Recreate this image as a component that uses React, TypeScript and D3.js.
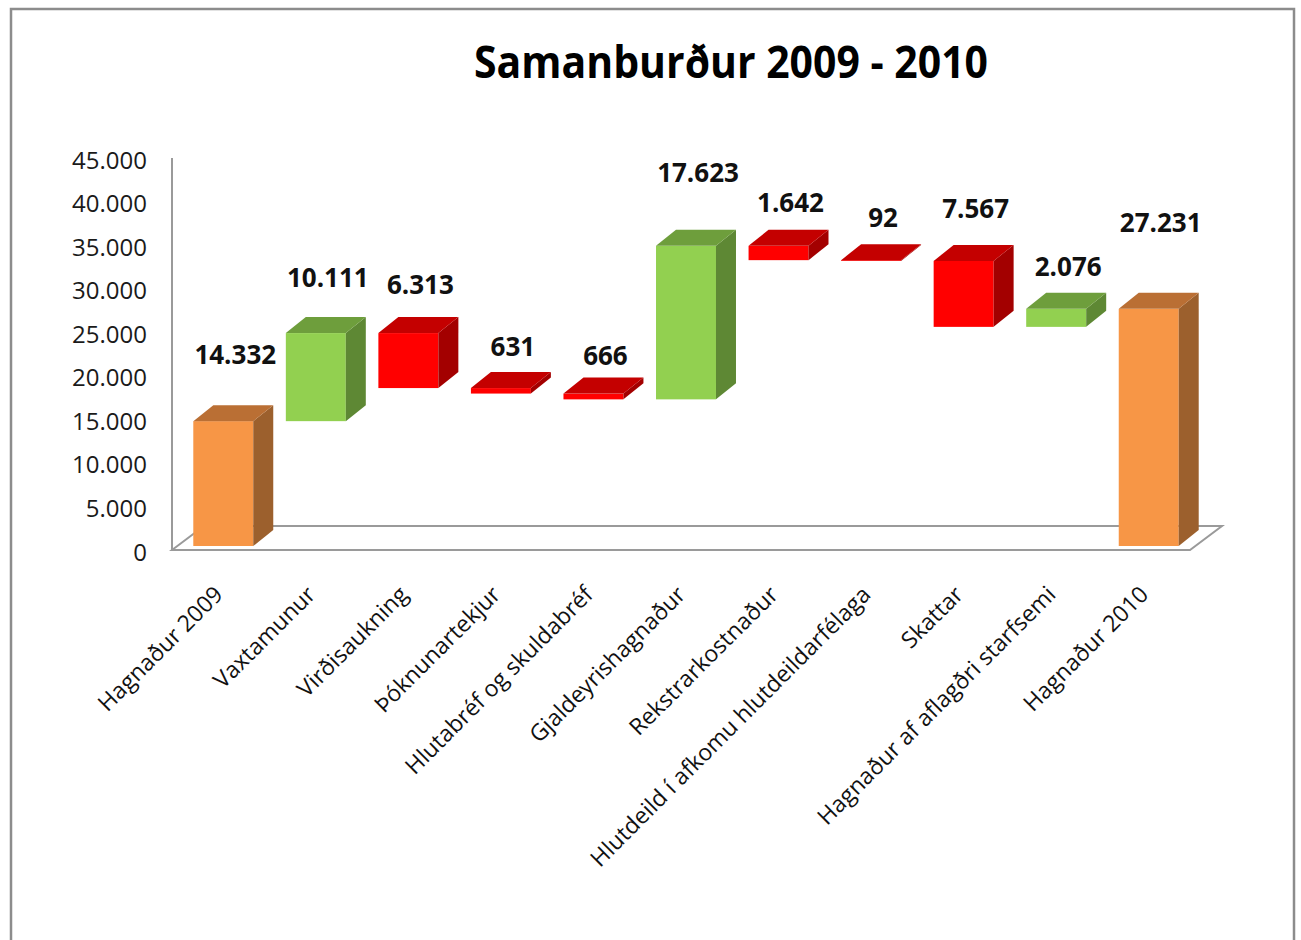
import React from "react";
import * as d3 from "d3";

const title = "Samanburður 2009 - 2010";
const categories = [
  "Hagnaður 2009",
  "Vaxtamunur",
  "Virðisaukning",
  "Þóknunartekjur",
  "Hlutabréf og skuldabréf",
  "Gjaldeyrishagnaður",
  "Rekstrarkostnaður",
  "Hlutdeild í afkomu hlutdeildarfélaga",
  "Skattar",
  "Hagnaður af aflagðri starfsemi",
  "Hagnaður 2010",
];
const changes = [14332, 10111, -6313, -631, -666, 17623, -1642, -92, -7567, 2076, 27231];
const kinds = ["total", "up", "down", "down", "down", "up", "down", "down", "down", "up", "total"];
const yTicks = [0, 5000, 10000, 15000, 20000, 25000, 30000, 35000, 40000, 45000];

// layout: how far each value label sits above its bar top (px)
const labelLift = [67, 56, 49, 42, 39, 74, 44, 43, 53, 43, 87];

const colors: Record<string, { front: string; side: string; top: string }> = {
  total: { front: "#F79646", side: "#9C602D", top: "#BA6F34" },
  up: { front: "#92D050", side: "#5E8834", top: "#6E9E3C" },
  down: { front: "#FF0000", side: "#A30000", top: "#C40000" },
};

const isl = d3.formatLocale({ decimal: ",", thousands: ".", grouping: [3], currency: ["", ""] });
const fmt = isl.format(",");

export default function App() {
  const W = 1301;
  const H = 940;
  const x = d3.scaleBand<string>().domain(categories).range([172, 1190]).paddingInner(0.352).paddingOuter(0.176);
  const y = d3.scaleLinear().domain([0, 45000]).range([550, 158]);
  const floorDx = 32;
  const floorDy = -24;
  const barOffX = 5;
  const barOffY = -4;
  const dX = 20;
  const dY = -16;

  let running = 0;
  const bars = categories.map((c, i) => {
    let a: number, b: number;
    if (kinds[i] === "total") {
      a = 0;
      b = changes[i];
      running = changes[i];
    } else {
      a = running;
      b = running + changes[i];
      running = b;
    }
    return { c, i, lo: Math.min(a, b), hi: Math.max(a, b), kind: kinds[i], label: fmt(Math.abs(changes[i])) };
  });

  const x0 = 172;
  const x1 = 1190;
  const y0 = y(0);

  return (
    <svg width={W} height={H} style={{ position: "absolute", left: 0, top: 0, background: "#fff" }}>
      <rect x={11} y={9} width={1283} height={1000} fill="#fff" stroke="#8c8c8c" strokeWidth={2.5} />
      <text
        x={731}
        y={78}
        textAnchor="middle"
        fontFamily="'Open Sans', sans-serif"
        fontWeight={700}
        fontSize={44}
        textLength={514}
        lengthAdjust="spacingAndGlyphs"
        fill="#000"
      >
        {title}
      </text>

      {/* floor */}
      <polygon
        points={`${x0},${y0} ${x0 + floorDx},${y0 + floorDy} ${x1 + floorDx},${y0 + floorDy} ${x1},${y0}`}
        fill="#fff"
        stroke="#9a9a9a"
        strokeWidth={2}
      />
      <line x1={x0} x2={x0} y1={y(45000)} y2={y0} stroke="#9a9a9a" strokeWidth={2} />

      {/* y tick labels */}
      {yTicks.map((t) => (
        <text
          key={t}
          x={147}
          y={y(t) + 1}
          textAnchor="end"
          dominantBaseline="central"
          fontFamily="'Open Sans', sans-serif"
          fontSize={24}
          fill="#1a1a1a"
        >
          {fmt(t)}
        </text>
      ))}

      {/* bars */}
      {bars.map((d) => {
        const bx0 = (x(d.c) as number) + barOffX;
        const bx1 = bx0 + x.bandwidth();
        const yt = y(d.hi) + barOffY;
        const yb = y(d.lo) + barOffY;
        const col = colors[d.kind];
        return (
          <g key={d.c}>
            <rect x={bx0} y={yt} width={bx1 - bx0} height={Math.max(0.8, yb - yt)} fill={col.front} />
            <polygon
              points={`${bx1},${yt} ${bx1 + dX},${yt + dY} ${bx1 + dX},${yb + dY} ${bx1},${yb}`}
              fill={col.side}
            />
            <polygon
              points={`${bx0},${yt} ${bx0 + dX},${yt + dY} ${bx1 + dX},${yt + dY} ${bx1},${yt}`}
              fill={col.top}
            />
          </g>
        );
      })}

      {/* value labels */}
      {bars.map((d) => {
        const cx = (x(d.c) as number) + barOffX + x.bandwidth() / 2 + 12;
        const yt = y(d.hi) + barOffY;
        return (
          <text
            key={"v" + d.c}
            x={cx}
            y={yt - labelLift[d.i]}
            textAnchor="middle"
            dominantBaseline="central"
            fontFamily="'Open Sans', sans-serif"
            fontWeight={700}
            fontSize={26}
            fill="#111"
          >
            {d.label}
          </text>
        );
      })}

      {/* category labels */}
      {categories.map((c) => {
        const cx = (x(c) as number) + barOffX + x.bandwidth() / 2 + 1;
        const cy = 596;
        return (
          <text
            key={"c" + c}
            transform={`translate(${cx},${cy}) rotate(-45)`}
            textAnchor="end"
            fontFamily="'Open Sans', sans-serif"
            fontSize={23}
            fill="#111"
          >
            {c}
          </text>
        );
      })}
    </svg>
  );
}
